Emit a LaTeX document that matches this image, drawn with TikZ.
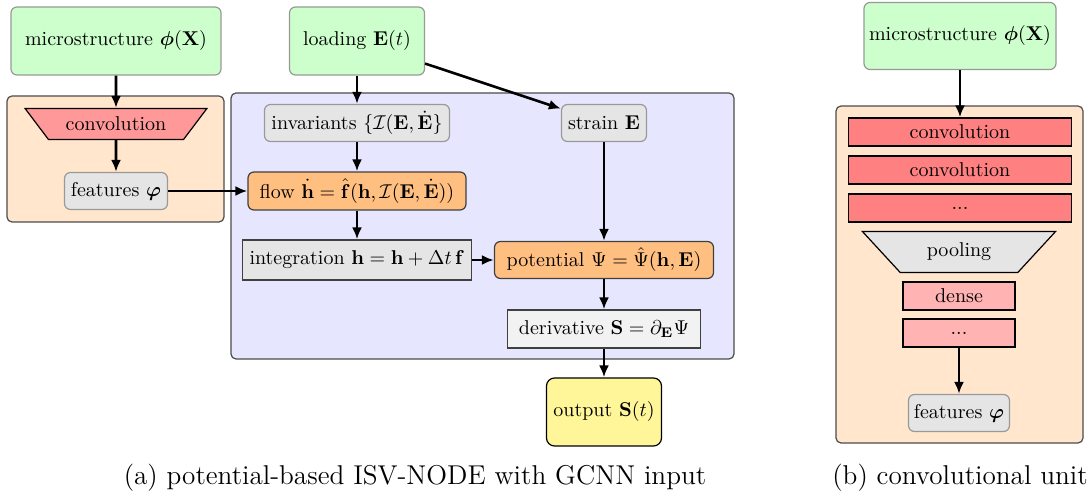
\documentclass[tikz,border=0pt]{standalone}
\usepackage{amsmath,amssymb,bm}
\usetikzlibrary{arrows.meta,shapes.geometric}
\definecolor{cgreen}{HTML}{CCFFCC}
\definecolor{corangelight}{HTML}{FFE6CC}
\definecolor{corange}{HTML}{FFBF80}
\definecolor{cblue}{HTML}{E6E6FF}
\definecolor{cgray}{HTML}{E5E5E5}
\definecolor{cgraylight}{HTML}{F2F2F2}
\definecolor{cyellow}{HTML}{FFF599}
\definecolor{cred}{HTML}{FF9999}
\definecolor{credd}{HTML}{FF8080}
\definecolor{credl}{HTML}{FFB3B3}
\definecolor{cborder}{HTML}{999999}
\tikzset{
  inbox/.style={draw=cborder, fill=cgreen, rounded corners=3pt, line width=0.6pt, align=center, inner sep=2pt},
  graybox/.style={draw=cborder, fill=cgray, rounded corners=3pt, line width=0.6pt, inner sep=2pt},
  orangebox/.style={draw=black!75, fill=corange, rounded corners=3pt, line width=0.6pt, inner sep=2pt},
  plainbox/.style={draw=black!75, fill=cgray, line width=0.6pt, inner sep=2pt},
  outbox/.style={draw=black, fill=cyellow, rounded corners=4pt, line width=0.6pt, inner sep=2pt},
  container/.style={draw=black!70, rounded corners=2.5pt, line width=0.6pt},
  trap/.style={trapezium, shape border rotate=180, trapezium left angle=45, trapezium right angle=45, trapezium stretches=true, draw=black, line width=0.6pt, inner sep=1pt},
  layer/.style={draw=black, line width=0.6pt, inner sep=1pt},
  arr/.style={-{Latex[length=6pt,width=5pt]}, line width=1.3pt},
  caption/.style={font=\fontsize{13.6}{16}\selectfont, inner sep=0pt},
}
\begin{document}
\begin{tikzpicture}[x=0.5pt,y=-0.5pt]
\useasboundingbox (0,0) rectangle (1089,497);
% containers
\draw[container, fill=corangelight] (7,96) rectangle (224,222);
\draw[container, fill=cblue] (231,93) rectangle (734,359);
\draw[container, fill=corangelight] (836,106) rectangle (1083,443);
% left part (a)
\node[inbox, minimum width=105pt, minimum height=34pt] (micro) at (116,41) {microstructure $\bm{\phi}(\mathbf{X})$};
\node[inbox, minimum width=67.5pt, minimum height=34pt] (load) at (357,41) {loading $\mathbf{E}(t)$};
\node[trap, fill=cred, minimum width=91pt, minimum height=15.5pt] (conv) at (116,124) {convolution};
\node[graybox, minimum width=51.5pt, minimum height=18.5pt] (feat) at (116,191) {features $\bm{\varphi}$};
\node[graybox, minimum width=92.5pt, minimum height=18.5pt] (inv) at (357,123) {invariants $\{\mathcal{I}(\mathbf{E},\dot{\mathbf{E}}\}$};
\node[graybox, minimum width=42.5pt, minimum height=18.5pt] (strain) at (604,123) {strain $\mathbf{E}$};
\node[orangebox, minimum width=109pt, minimum height=19pt] (flow) at (357,191) {flow $\dot{\mathbf{h}}=\hat{\mathbf{f}}(\mathbf{h},\mathcal{I}(\mathbf{E},\dot{\mathbf{E}}))$};
\node[plainbox, minimum width=114.5pt, minimum height=20pt] (integ) at (357,260) {integration $\mathbf{h}=\mathbf{h}+\Delta t\,\mathbf{f}$};
\node[orangebox, minimum width=109.5pt, minimum height=18.5pt] (pot) at (604,260) {potential $\Psi=\hat{\Psi}(\mathbf{h},\mathbf{E})$};
\node[plainbox, fill=cgraylight, minimum width=96.5pt, minimum height=19pt] (deriv) at (604,329) {derivative $\mathbf{S}=\partial_{\mathbf{E}}\Psi$};
\node[outbox, minimum width=57.5pt, minimum height=34pt] (out) at (604,412) {output $\mathbf{S}(t)$};
\draw[arr] (micro) -- (conv);
\draw[arr] (conv) -- (feat);
\draw[arr] (feat) -- (flow);
\draw[arr] (load) -- (inv);
\draw[arr] (load) -- (strain);
\draw[arr] (inv) -- (flow);
\draw[arr] (flow) -- (integ);
\draw[arr] (integ) -- (pot);
\draw[arr] (strain) -- (pot);
\draw[arr] (pot) -- (deriv);
\draw[arr] (deriv) -- (out);
\node[caption] (capa) at (415,478) {(a) potential-based ISV-NODE with GCNN input};
% right part (b)
\node[inbox, minimum width=96pt, minimum height=33.5pt] (micro2) at (960,36) {microstructure $\bm{\phi}(\mathbf{X})$};
\node[layer, fill=credd, minimum width=111.5pt, minimum height=14pt] (c1) at (960,132) {convolution};
\node[layer, fill=credd, minimum width=111.5pt, minimum height=14pt] (c2) at (960,170) {convolution};
\node[layer, fill=credd, minimum width=111.5pt, minimum height=14pt] (c3) at (960,208) {...};
\node[trap, fill=cgray, minimum width=97pt, minimum height=20.5pt] (pool) at (959,252) {pooling};
\node[layer, fill=credl, minimum width=56pt, minimum height=14pt] (d1) at (959,296) {dense};
\node[layer, fill=credl, minimum width=56pt, minimum height=14pt] (d2) at (959,333) {...};
\node[graybox, minimum width=50.5pt, minimum height=18.5pt] (feat2) at (959,413) {features $\bm{\varphi}$};
\draw[arr] (micro2) -- (c1);
\draw[arr] (d2) -- (feat2);
\node[caption] (capb) at (960,478) {(b) convolutional unit};
\end{tikzpicture}
\end{document}
